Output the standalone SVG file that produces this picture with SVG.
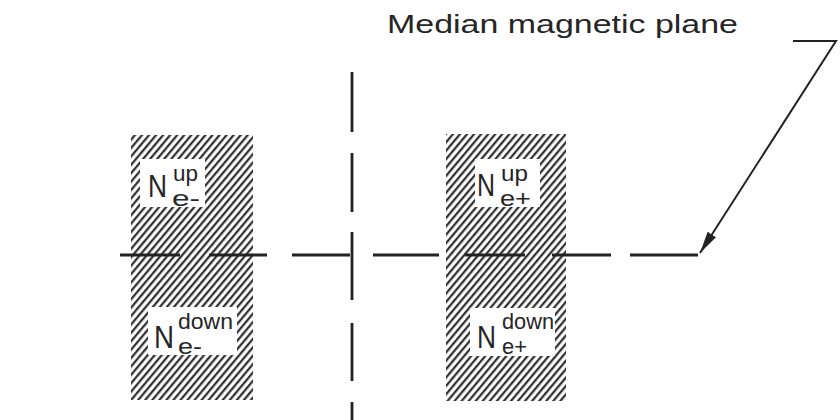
<svg xmlns="http://www.w3.org/2000/svg" width="840" height="420" viewBox="0 0 840 420">
<style>
.axis{stroke:#222;stroke-width:2.8;fill:none}
.lead{stroke:#222;stroke-width:2;fill:none}
.lbl{fill:#262626;font-family:"Liberation Sans",Arial,sans-serif}
.big{font-size:31px}
.sm{font-size:22px}
.title{fill:#262626;font-family:"Liberation Sans",Arial,sans-serif;font-size:26px}
.box{fill:#fff}
</style>
<defs>
<pattern id="hatch" patternUnits="userSpaceOnUse" width="5.4" height="5.4" patternTransform="rotate(40)">
<rect width="5.4" height="5.4" fill="#fff"/>
<line x1="1.2" y1="0" x2="1.2" y2="5.4" stroke="#222" stroke-width="2.1"/>
</pattern>
<marker id="arr" markerUnits="userSpaceOnUse" markerWidth="24" markerHeight="12" refX="22" refY="5" orient="auto">
<path d="M0,0 L22,5 L0,10 z" fill="#222"/>
</marker>
</defs>
<rect width="840" height="420" fill="#fff"/>

<g id="electron-block">
<rect x="131" y="135" width="122" height="265" fill="url(#hatch)"/>
<g id="Ne-up">
<rect class="box" x="140" y="159" width="65" height="48"/>
<text class="lbl big" x="148" y="197" textLength="19" lengthAdjust="spacingAndGlyphs">N</text>
<text class="lbl sm" x="173" y="181" textLength="25" lengthAdjust="spacingAndGlyphs">up</text>
<text class="lbl sm" x="172" y="206" textLength="28" lengthAdjust="spacingAndGlyphs">e-</text>
</g>
<g id="Ne-down">
<rect class="box" x="148" y="307" width="89" height="48"/>
<text class="lbl big" x="154" y="348" textLength="20" lengthAdjust="spacingAndGlyphs">N</text>
<text class="lbl sm" x="178" y="329" textLength="55" lengthAdjust="spacingAndGlyphs">down</text>
<text class="lbl sm" x="178" y="354" textLength="24" lengthAdjust="spacingAndGlyphs">e-</text>
</g>
</g>

<g id="positron-block">
<rect x="446" y="134" width="120" height="267" fill="url(#hatch)"/>
<g id="Ne+up">
<rect class="box" x="475" y="159" width="65" height="48"/>
<text class="lbl big" x="477" y="196" textLength="18" lengthAdjust="spacingAndGlyphs">N</text>
<text class="lbl sm" x="501" y="181" textLength="27" lengthAdjust="spacingAndGlyphs">up</text>
<text class="lbl sm" x="500" y="206" textLength="31" lengthAdjust="spacingAndGlyphs">e+</text>
</g>
<g id="Ne+down">
<rect class="box" x="470" y="308" width="85" height="48"/>
<text class="lbl big" x="477" y="348" textLength="19" lengthAdjust="spacingAndGlyphs">N</text>
<text class="lbl sm" x="502" y="329" textLength="52" lengthAdjust="spacingAndGlyphs">down</text>
<text class="lbl sm" x="502" y="354" textLength="25" lengthAdjust="spacingAndGlyphs">e+</text>
</g>
</g>

<g id="connectors">
<g id="median-plane">
<line class="axis" x1="120" y1="255" x2="180" y2="255"/>
<line class="axis" x1="209" y1="255" x2="267" y2="255"/>
<line class="axis" x1="292" y1="255" x2="350" y2="255"/>
<line class="axis" x1="373" y1="255" x2="439" y2="255"/>
<line class="axis" x1="465" y1="255" x2="525" y2="255"/>
<line class="axis" x1="552" y1="255" x2="611" y2="255"/>
<line class="axis" x1="630" y1="255" x2="698" y2="255"/>
</g>
<g id="vertical-axis">
<line class="axis" x1="352" y1="72" x2="352" y2="132"/>
<line class="axis" x1="352" y1="153" x2="352" y2="212"/>
<line class="axis" x1="352" y1="232" x2="352" y2="300"/>
<line class="axis" x1="352" y1="323" x2="352" y2="381"/>
<line class="axis" x1="352" y1="402" x2="352" y2="420"/>
</g>
<polyline class="lead" points="793,41 836,41 700,253" marker-end="url(#arr)"/>
</g>

<g id="title">
<text class="title" x="387" y="33" textLength="351" lengthAdjust="spacingAndGlyphs">Median magnetic plane</text>
</g>
</svg>
